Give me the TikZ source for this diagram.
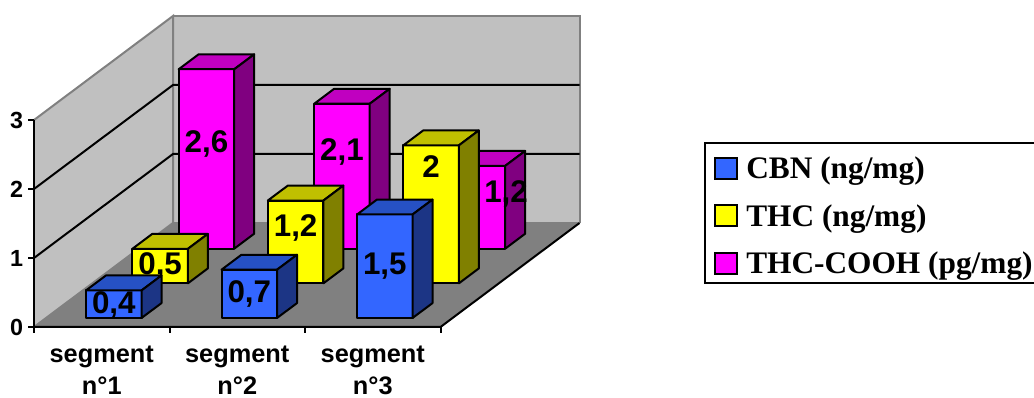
\documentclass[tikz,border=0pt]{standalone}
\usepackage{fontspec}
\setmainfont{Liberation Serif}
\setsansfont{Liberation Sans}
\definecolor{wallgray}{HTML}{C0C0C0}
\definecolor{floorgray}{HTML}{808080}
\definecolor{cbn}{HTML}{3366FF}
\definecolor{topcbn}{HTML}{2651C4}
\definecolor{sidecbn}{HTML}{1C3585}
\definecolor{thc}{HTML}{FFFF00}
\definecolor{topthc}{HTML}{C0C000}
\definecolor{sidethc}{HTML}{808000}
\definecolor{cooh}{HTML}{FF00FF}
\definecolor{topcooh}{HTML}{C000C0}
\definecolor{sidecooh}{HTML}{800080}
\tikzset{
  bar/.style={draw=black,line width=1.5pt,line join=round},
  border/.style={draw=floorgray,line width=1.5pt},
  axis/.style={draw=black,line width=1.5pt},
  gridline/.style={draw=black,line width=1.5pt},
  barlabel/.style={font=\sffamily\bfseries\fontsize{23.5}{23.5}\selectfont,inner sep=0pt},
  ylabel/.style={font=\sffamily\bfseries\fontsize{17.5}{17.5}\selectfont,anchor=east,inner sep=0pt,xshift=-3pt},
  catlabel/.style={font=\sffamily\bfseries\fontsize{19}{19}\selectfont,anchor=base,inner sep=0pt},
  legendtext/.style={font=\rmfamily\bfseries\fontsize{23.5}{23.5}\selectfont,anchor=base west,inner sep=0pt},
  key/.style={draw=black,line width=1.5pt}
}
\begin{document}
\begin{tikzpicture}[x=0.75pt,y=-0.75pt]
\useasboundingbox (0,0) rectangle (1034,398);
\begin{scope}[shift={(34,327)},x={(101.625pt,0pt)},y={(0pt,51.75pt)},z={(34.75pt,26pt)}]
  % walls and floor
  \fill[floorgray] (0,0,0) -- (3,0,0) -- (3,0,3) -- (0,0,3) -- cycle;
  \fill[wallgray] (0,0,0) -- (0,3,0) -- (0,3,3) -- (0,0,3) -- cycle;
  \fill[wallgray] (0,0,3) -- (3,0,3) -- (3,3,3) -- (0,3,3) -- cycle;
  \draw[border] (0,0,0) -- (0,0,3) -- (0,3,3) -- (0,3,0);
  \draw[border] (0,3,3) -- (3,3,3) -- (3,0,3);
  \draw[border] (0,0,3) -- (3,0,3);
  \foreach \v in {1,2}
    \draw[gridline] (0,\v,0) -- (0,\v,3) -- (3,\v,3);
  \draw[axis] (0,0,0) -- (3,0,0) -- (3,0,3);
  \draw[axis] (0,3,0) -- (0,0,0);
  \foreach \v in {0,...,3}
    \draw[axis] (0,\v,0) -- ++(-4.5pt,0pt) node[ylabel] (ylab\v) {\v};
  \foreach \c in {0,...,3}
    \draw[axis] (\c,0,0) -- ++(0pt,-4.5pt);
  % bars, back row first
  \foreach \k/\i/\h/\lv/\lc/\fc/\txt in {
      2/0/2.6/1.52/0.5/cooh/{2,6}, 2/1/2.1/1.40/1.5/cooh/{2,1}, 2/2/1.2/0.79/2.711/cooh/{1,2},
      1/0/0.5/0.25/0.5/thc/{0,5}, 1/1/1.2/0.80/1.5/thc/{1,2}, 1/2/2/1.69/2.5/thc/2,
      0/0/0.4/0.19/0.5/cbn/{0,4}, 0/1/0.7/0.35/1.5/cbn/{0,7}, 0/2/1.5/0.75/2.5/cbn/{1,5}}{
    \pgfmathsetmacro\ca{\i+0.295}
    \pgfmathsetmacro\cb{\i+0.705}
    \pgfmathsetmacro\da{\k+0.26}
    \pgfmathsetmacro\db{\k+0.69}
    \draw[bar,fill=\fc] (\ca,0,\da) -- (\cb,0,\da) -- (\cb,\h,\da) -- (\ca,\h,\da) -- cycle;
    \draw[bar,fill=top\fc] (\ca,\h,\da) -- (\cb,\h,\da) -- (\cb,\h,\db) -- (\ca,\h,\db) -- cycle;
    \draw[bar,fill=side\fc] (\cb,0,\da) -- (\cb,0,\db) -- (\cb,\h,\db) -- (\cb,\h,\da) -- cycle;
    \node[barlabel] (lab\k\i) at (\lc,\lv,\da) {\txt};
  }
\end{scope}
% category names
\foreach \i in {1,2,3} {
  \pgfmathsetmacro\cx{101.75+135.5*(\i-1)}
  \node[catlabel] (seg\i) at (\cx,363) {segment};
  \node[catlabel] (num\i) at (\cx,394) {n°\i};
}
% legend
\draw[line width=1.2pt] (1034,143) -- (705,143) -- (705,283) -- (1034,283);
\foreach \n/\txt [count=\r from 0] in {cbn/{CBN (ng/mg)}, thc/{THC (ng/mg)}, cooh/{THC-COOH (pg/mg)}} {
  \draw[key,fill=\n] (715,{158+47.5*\r}) rectangle ++(22,21);
  \node[legendtext] (leg\n) at (746,{179+47.5*\r}) {\txt};
}
\end{tikzpicture}
\end{document}
